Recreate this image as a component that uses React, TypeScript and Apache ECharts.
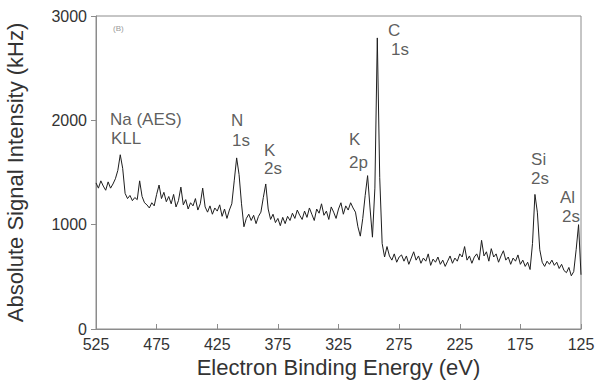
import React, { useEffect, useRef } from "react";
import * as echarts from "echarts";

// Spectrum sampled every 2 eV from 525 eV down to 125 eV (values in kHz)
const E_START = 525;
const E_STEP = 2;
const intensity: number[] = [
  1400, 1350, 1420, 1370, 1330, 1410, 1350, 1390, 1440, 1520,
  1670, 1540, 1300, 1250, 1280, 1230, 1260, 1240, 1420, 1270,
  1210, 1190, 1160, 1210, 1180, 1290, 1380, 1250, 1310, 1220,
  1270, 1200, 1290, 1170, 1230, 1360, 1190, 1240, 1150, 1210,
  1180, 1250, 1140, 1200, 1350, 1170, 1120, 1180, 1100, 1160,
  1130, 1190, 1080, 1150, 1060, 1140, 1200, 1420, 1640, 1480,
  1200, 980, 1060, 1100, 1040, 1090, 1010, 1080, 1120, 1260,
  1390, 1150, 1050, 1100, 1020, 1060, 990, 1070, 1010, 1080,
  1040, 1110, 1060, 1140, 1090, 1050, 1130, 1070, 1160, 1100,
  1040, 1150, 1110, 1200, 1090, 1130, 1050, 1170, 1120, 1060,
  1150, 1210, 1100, 1180, 1140, 1210, 1160, 1120, 980, 890,
  1060, 1280, 1470, 1160, 880, 1350, 2790, 1450, 820, 690,
  790, 700, 660, 720, 640, 690, 710, 650, 700, 620,
  680, 740, 660, 700, 630, 680, 650, 720, 610, 670,
  640, 690, 620, 660, 600, 650, 700, 630, 680, 650,
  720, 690, 790, 660, 700, 630, 690, 720, 660, 850,
  700, 740, 650, 770, 690, 720, 640, 700, 750, 660,
  690, 620, 680, 650, 710, 620, 660, 600, 640, 570,
  820, 1290, 1120, 760, 640, 600, 650, 620, 660, 610,
  640, 580, 620, 560, 540, 590, 510, 550, 760, 1000,
  520,
];

// Peak annotations (one entry per text line), anchored in data coordinates
const annText: string[] = ["Na (AES)", "KLL", "N", "1s", "K", "2s", "K", "2p", "C", "1s", "Si", "2s", "Al", "2s"];
const annEnergy: number[] = [513.5, 512.6, 413.7, 412.8, 386.4, 386.4, 316.3, 316.3, 284.2, 281.7, 166.2, 166.2, 142.3, 140.7];
const annIntensity: number[] = [2010, 1827, 2000, 1808, 1712, 1538, 1817, 1596, 2865, 2683, 1625, 1442, 1260, 1077];

const xTickMin = 125;
const xTickMax = 525;
const xTickStep = 50;
const yTickMin = 0;
const yTickMax = 3000;
const yTickStep = 1000;

const FONT = "'Liberation Sans', Arial, Helvetica, sans-serif";

export default function App() {
  const ref = useRef<HTMLDivElement>(null);
  useEffect(() => {
    if (!ref.current) return;
    const chart = echarts.init(ref.current, undefined, { renderer: "svg" });
    const lineData = intensity.map((v, i) => [E_START - i * E_STEP, v]);
    const annData = annText.map((t, i) => ({ name: t, value: [annEnergy[i], annIntensity[i]] }));
    chart.setOption({
      animation: false,
      backgroundColor: "#ffffff",
      textStyle: { fontFamily: FONT },
      grid: {
        left: 96,
        right: 16,
        top: 16,
        bottom: 51,
        containLabel: false,
        outerBoundsMode: "none",
        show: true,
        borderColor: "#8c8c8c",
        borderWidth: 1,
        backgroundColor: "transparent",
      },
      xAxis: {
        type: "value",
        inverse: true,
        min: xTickMin,
        max: xTickMax,
        interval: xTickStep,
        name: "Electron Binding Energy (eV)",
        nameLocation: "middle",
        nameGap: 26,
        nameTextStyle: { fontSize: 22, color: "#333", fontFamily: FONT },
        axisLine: { show: true, lineStyle: { color: "#8c8c8c", width: 1 } },
        axisTick: { show: true, inside: true, length: 5, lineStyle: { color: "#8c8c8c" } },
        axisLabel: {
          fontSize: 16,
          color: "#333",
          margin: 7,
          fontFamily: FONT,
          showMinLabel: true,
          showMaxLabel: true,
          formatter: (v: number) => String(v),
        },
        splitLine: { show: false },
      },
      yAxis: {
        type: "value",
        min: yTickMin,
        max: yTickMax,
        interval: yTickStep,
        name: "Absolute Signal Intensity (kHz)",
        nameLocation: "middle",
        nameGap: 70,
        nameTextStyle: { fontSize: 22, color: "#333", fontFamily: FONT },
        axisLine: { show: true, lineStyle: { color: "#8c8c8c", width: 1 } },
        axisTick: { show: true, inside: false, length: 5, lineStyle: { color: "#8c8c8c" } },
        axisLabel: {
          fontSize: 16,
          color: "#333",
          margin: 9,
          fontFamily: FONT,
          formatter: (v: number) => String(v),
        },
        splitLine: { show: false },
      },
      series: [
        {
          type: "line",
          data: lineData,
          showSymbol: false,
          symbol: "none",
          lineStyle: { color: "#1e1e1e", width: 1 },
          silent: true,
          z: 3,
        },
        {
          type: "scatter",
          data: annData,
          symbolSize: 0,
          silent: true,
          label: {
            show: true,
            formatter: (p: any) => p.name,
            position: "inside",
            align: "left",
            verticalAlign: "middle",
            fontSize: 17,
            color: "#333",
            fontFamily: FONT,
          },
          z: 4,
        },
      ],
      graphic: [
        {
          type: "text",
          left: 113,
          top: 24,
          style: { text: "(B)", fontSize: 8, fill: "#999", fontFamily: FONT },
        },
      ],
    });
    return () => chart.dispose();
  }, []);
  return <div ref={ref} style={{ position: "fixed", left: 0, top: 0, width: 597, height: 380 }} />;
}
